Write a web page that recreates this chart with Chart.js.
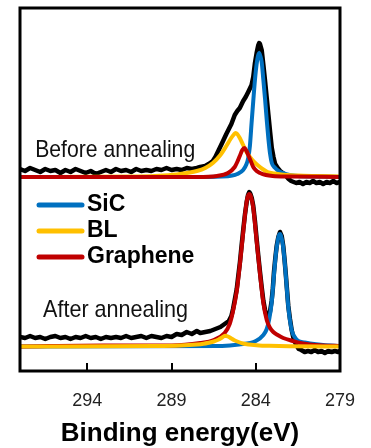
<!DOCTYPE html>
<html>
<head>
<meta charset="utf-8">
<script src="https://cdn.jsdelivr.net/npm/chart.js@4/dist/chart.umd.min.js"></script>
<style>
  body { margin: 0; background: #fff; }
  canvas { display: block; }
</style>
</head>
<body>
<canvas id="xps" width="371" height="448"></canvas>
<script>
// C 1s spectra, binding energy (eV) vs intensity (a.u., spectra offset)
const tickValues = [294, 289, 284, 279];
const legendNames = ['SiC', 'BL', 'Graphene'];
const colors = { total: '#000000', sic: '#0070C0', bl: '#FFC000', gr: '#C00000' };

// ---- before annealing ----
const beforeTotalBE = [298.0,297.7,297.4,297.1,296.8,296.5,296.2,295.9,295.6,295.3,295.0,294.7,294.4,294.1,293.8,293.5,293.2,292.9,292.6,292.3,292.0,291.7,291.4,291.1,290.8,290.5,290.2,289.9,289.6,289.3,289.0,288.7,288.4,288.1,287.8,287.5,287.3,287.0,286.8,286.55,286.4,286.2,286.0,285.75,285.45,285.25,285.1,284.95,284.75,284.6,284.45,284.25,284.15,284.05,283.95,283.85,283.8,283.75,283.65,283.55,283.45,283.35,283.25,283.15,283.05,282.95,282.85,282.7,282.55,282.4,282.2,282.05,281.9,281.75,281.6,281.4,281.2,281.0,280.8,280.6,280.4,280.2,280.0,279.8,279.6,279.4,279.2,279.0];
const beforeTotal = [202,200,203,201,199,202,200,201,198,201,199,202,200,198,200,197,199,201,199,202,200,201,199,202,200,201,200,202,201,203,201,202,201,203,202,203,204,205,207,210,214,221,228,237,247,256,260,263,270,274,279,286,294,308,318,326,328,327,321,306,290,273,256,239,223,214,207,203,200,198,195,192,190,189,188,189,187,189,188,190,188,189,187,189,188,190,188,189];

const beforeSiCBE = [298,288,286,285.4,285.1,284.75,284.55,284.45,284.35,284.25,284.15,284.05,283.95,283.87,283.8,283.73,283.65,283.55,283.45,283.35,283.25,283.15,283.05,282.85,282.6,282.4,282.0,281.5,280.5,279];
const beforeSiC = [194,194,194.5,195.5,197,201,207,213,225,248,270,291,307,315,318,315,309,291,272,251,232,217,208,203,199.5,198,196,195,194.5,194];

const beforeBLBE = [298,291,289.5,288.5,287.5,287.0,286.55,286.1,285.75,285.5,285.3,285.2,285.1,284.95,284.75,284.55,284.35,284.1,283.9,283.6,283.3,282.9,282.5,281.5,280.5,279];
const beforeBL = [194,194.5,195.5,197,200,203,208,216,225,232,236.5,238,237,233,226,219,214,209,206,202,199,197.5,196.5,195.5,195,194.5];

const beforeGrBE = [298,287.5,286.3,285.65,285.25,285.1,284.95,284.8,284.68,284.55,284.45,284.3,284.15,283.95,283.75,283.4,283.0,282.0,279];
const beforeGr = [194,194,195,198,204,209,215,221,223,220,216,210,204,200,198,196,195,194.5,194];

// ---- after annealing ----
const afterTotalBE = [298.0,297.7,297.4,297.1,296.8,296.5,296.2,295.9,295.6,295.3,295.0,294.7,294.4,294.1,293.8,293.5,293.2,292.9,292.6,292.3,292.0,291.7,291.4,291.1,290.8,290.5,290.2,289.9,289.6,289.3,289.0,288.7,288.4,288.1,287.8,287.5,287.3,287.0,286.7,286.4,286.1,285.85,285.6,285.45,285.35,285.25,285.13,285.04,284.94,284.84,284.74,284.64,284.54,284.46,284.39,284.32,284.24,284.15,284.05,283.95,283.85,283.75,283.65,283.55,283.45,283.35,283.26,283.16,283.06,282.99,282.92,282.84,282.76,282.66,282.56,282.46,282.37,282.29,282.21,282.14,282.07,281.97,281.87,281.75,281.6,281.45,281.3,281.1,280.9,280.7,280.5,280.3,280.1,279.9,279.7,279.5,279.3,279.1,279.0];
const afterTotal = [34,33,35,33,34,32,34,35,33,34,32,34,33,35,33,34,32,34,33,34,33,35,33,34,35,33,35,34,33,35,34,37,36,39,37,40,38,39,40,42,44,47,50,55,62,71,82,95,109,126,142,157,169,176,179,177,173,165,150,132,115,99,84,70,61,55,54,59,70,82,99,113,125,134,139,135,125,111,95,80,65,52,41,32,26,22,21,19,20,19,21,19,20,18,20,19,20,19,20];

const afterSiCBE = [298,286,285,284,283.55,283.35,283.2,283.06,282.92,282.8,282.7,282.62,282.56,282.5,282.4,282.3,282.21,282.07,281.87,281.65,281.48,281.1,280.78,280,279];
const afterSiC = [24.5,25,26.5,30,36,42,52,68,96,118,130,136,137,135,127,112,94,64,41,33,30,28.5,27.5,26,25];

const afterBLBE = [298,290,288.5,287.5,287.1,286.8,286.5,286.2,286.0,285.83,285.65,285.45,285.3,285.1,284.75,284.4,283.8,283.2,282,279];
const afterBL = [24.5,25,25.5,26.5,27.3,28.3,29.5,31.5,33.5,35.3,34.5,32.5,31,29.5,27.5,26.5,25.5,25.2,24.8,24.5];

const afterGrBE = [298,293,289,287.3,286.5,285.85,285.55,285.35,285.13,284.94,284.74,284.6,284.5,284.39,284.28,284.15,283.95,283.75,283.55,283.35,283.15,282.96,282.7,282.37,281.8,281.37,280.8,280,279];
const afterGr = [24.5,25.5,25.5,28,31,38,47,60,80,107,140,162,173,177,174,163,130,97,68,51,43,39,36,33,30,28,26.5,25.5,25];

function pts(xs, ys) {
  return xs.map((x, i) => ({ x: x, y: ys[i] }));
}

function line(label, xs, ys, color, order, smooth) {
  return {
    label: label,
    data: pts(xs, ys),
    borderColor: color,
    backgroundColor: color,
    borderWidth: smooth ? 4 : 4.5,
    pointRadius: 0,
    tension: smooth ? 0.4 : 0,
    cubicInterpolationMode: smooth ? 'monotone' : 'default',
    borderCapStyle: 'round',
    borderJoinStyle: 'round',
    fill: false,
    order: order
  };
}

// higher order is drawn first (underneath)
const datasets = [
  line('Before total', beforeTotalBE, beforeTotal, colors.total, 10, false),
  line('SiC', beforeSiCBE, beforeSiC, colors.sic, 8, true),
  line('BL', beforeBLBE, beforeBL, colors.bl, 7, true),
  line('Graphene', beforeGrBE, beforeGr, colors.gr, 6, true),
  line('After total', afterTotalBE, afterTotal, colors.total, 10, false),
  line('SiC after', afterSiCBE, afterSiC, colors.sic, 8, true),
  line('Graphene after', afterGrBE, afterGr, colors.gr, 7, true),
  line('BL after', afterBLBE, afterBL, colors.bl, 6, true)
];

const decorations = {
  id: 'decorations',
  afterDatasetsDraw(chart) {
    const ctx = chart.ctx;
    const a = chart.chartArea;
    const xs = chart.scales.x, ys = chart.scales.y;
    ctx.save();

    // frame
    ctx.strokeStyle = '#000';
    ctx.lineWidth = 3;
    ctx.strokeRect(a.left, a.top, a.right - a.left, a.bottom - a.top);

    // spectrum labels
    ctx.fillStyle = '#111';
    ctx.font = '24px "Liberation Sans", Arial, sans-serif';
    ctx.textBaseline = 'middle';
    ctx.textAlign = 'left';
    ctx.fillText('Before annealing', xs.getPixelForValue(297.1), ys.getPixelForValue(221), 160);
    ctx.fillText('After annealing', xs.getPixelForValue(296.63), ys.getPixelForValue(61), 145);

    // legend
    const legendColors = [colors.sic, colors.bl, colors.gr];
    ctx.font = 'bold 23px "Liberation Sans", Arial, sans-serif';
    legendNames.forEach((name, i) => {
      const y = a.top + 197 + i * 26;
      ctx.strokeStyle = legendColors[i];
      ctx.lineWidth = 5;
      ctx.lineCap = 'round';
      ctx.beginPath();
      ctx.moveTo(a.left + 19, y);
      ctx.lineTo(a.left + 62, y);
      ctx.stroke();
      ctx.fillStyle = '#000';
      ctx.fillText(name, a.left + 67, y);
    });
    ctx.restore();
  }
};

new Chart(document.getElementById('xps'), {
  type: 'line',
  data: { datasets: datasets },
  options: {
    responsive: false,
    animation: false,
    events: [],
    layout: { padding: { left: 20, right: 31, top: 8, bottom: 0 } },
    plugins: { legend: { display: false }, tooltip: { enabled: false } },
    scales: {
      x: {
        type: 'linear',
        min: 279,
        max: 298,
        reverse: true,
        afterBuildTicks: s => { s.ticks = tickValues.map(v => ({ value: v })); },
        afterFit: s => { s.height = 77; s.paddingLeft = 0; s.paddingRight = 0; },
        grid: { drawOnChartArea: false, drawTicks: true, tickLength: -8, color: '#000', lineWidth: 2 },
        border: { display: false },
        ticks: {
          padding: 27,
          color: '#222',
          font: { family: '"Liberation Sans", Arial, sans-serif', size: 18 },
          callback: v => String(v)
        },
        title: {
          display: true,
          text: 'Binding energy(eV)',
          color: '#000',
          padding: { top: 0, bottom: 0 },
          font: { family: '"Liberation Sans", Arial, sans-serif', size: 26, weight: 'bold', lineHeight: 1.1 }
        }
      },
      y: { type: 'linear', min: 0, max: 363, display: false }
    }
  },
  plugins: [decorations]
});
</script>
</body>
</html>
